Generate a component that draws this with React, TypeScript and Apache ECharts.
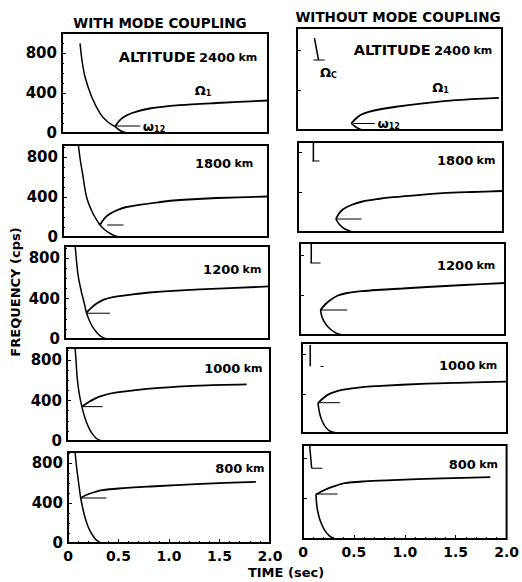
import React, { useEffect, useRef } from "react";
import * as echarts from "echarts";

// ---------- tick labels / texts ----------
const X_TICK_LABELS = ["0", "0.5", "1.0", "1.5", "2.0"];
const Y_TICK_VALUES = [0, 400, 800];
const ALTITUDES = ["2400", "1800", "1200", "1000", "800"];
const HEADERS = ["WITH MODE COUPLING", "WITHOUT MODE COUPLING"];
const Y_TITLE = "FREQUENCY (cps)";
const X_TITLE = "TIME (sec)";

// y-axis upper limits (cps) of each panel
const LEFT_YMAX = [1000, 920, 920, 920, 910];
const RIGHT_YMAX = [1020, 900, 920, 920, 930];

// ---------- WITH mode coupling: [time s, freq cps] ----------
const L1_DESC = [[0.175, 897], [0.195, 720], [0.223, 563], [0.288, 363], [0.369, 197], [0.44, 115], [0.515, 63]];
const L1_TAIL = [[0.515, 63], [0.55, 35], [0.59, 12], [0.63, 0]];
const L1_RISE = [[0.515, 63], [0.55, 115], [0.6, 160], [0.68, 200], [0.85, 245], [1.14, 278], [1.5, 300], [2.0, 325]];
const L1_W12 = [[0.515, 70], [0.76, 70]];

const L2_DESC = [[0.15, 920], [0.17, 760], [0.19, 640], [0.23, 400], [0.29, 240], [0.36, 120]];
const L2_TAIL = [[0.36, 120], [0.41, 70], [0.46, 35], [0.51, 10], [0.56, 0]];
const L2_RISE = [[0.36, 120], [0.4, 180], [0.44, 220], [0.52, 265], [0.62, 300], [0.95, 350], [1.14, 370], [1.5, 390], [2.0, 405]];
const L2_W12 = [[0.43, 120], [0.59, 120]];

const L3_DESC = [[0.1, 920], [0.115, 750], [0.13, 620], [0.16, 470], [0.18, 390], [0.21, 260]];
const L3_TAIL = [[0.21, 260], [0.24, 180], [0.27, 120], [0.32, 55], [0.36, 20], [0.41, 0]];
const L3_RISE = [[0.21, 260], [0.26, 310], [0.31, 350], [0.38, 390], [0.47, 415], [0.65, 440], [0.83, 460], [1.32, 490], [2.0, 520]];
const L3_W12 = [[0.21, 255], [0.44, 255]];

const L4_DESC = [[0.08, 920], [0.09, 780], [0.1, 630], [0.12, 470], [0.146, 340]];
const L4_TAIL = [[0.146, 340], [0.17, 250], [0.19, 190], [0.22, 120], [0.25, 70], [0.29, 25], [0.34, 0]];
const L4_RISE = [[0.146, 340], [0.23, 395], [0.32, 440], [0.49, 480], [0.91, 525], [1.3, 548], [1.77, 560]];
const L4_W12 = [[0.146, 340], [0.35, 340]];

const L5_DESC = [[0.07, 910], [0.085, 760], [0.1, 640], [0.125, 450]];
const L5_TAIL = [[0.125, 450], [0.15, 330], [0.17, 250], [0.2, 160], [0.23, 100], [0.27, 40], [0.31, 8], [0.33, 0]];
const L5_RISE = [[0.125, 450], [0.18, 480], [0.25, 505], [0.34, 528], [0.5, 545], [0.82, 565], [1.32, 592], [1.86, 612]];
const L5_W12 = [[0.125, 450], [0.38, 450]];

// ---------- WITHOUT mode coupling ----------
const R1_LOWER = [[0.53, 65], [0.56, 40], [0.6, 15], [0.64, 0]];
const R1_UPPER = [[0.53, 65], [0.57, 110], [0.62, 150], [0.7, 182], [0.8, 205], [0.95, 230], [1.19, 262], [1.46, 292], [1.7, 308], [1.97, 322]];
const R1_W12 = [[0.55, 65], [0.76, 65]];
const R1_OMC_V = [[0.17, 920], [0.21, 700]];
const R1_OMC_H = [[0.16, 700], [0.27, 700]];

const R2_LOWER = [[0.37, 130], [0.4, 80], [0.45, 35], [0.53, 0]];
const R2_UPPER = [[0.37, 130], [0.4, 185], [0.44, 228], [0.52, 270], [0.63, 305], [0.78, 330], [0.93, 348], [1.2, 372], [1.41, 388], [1.7, 400], [1.99, 410]];
const R2_W12 = [[0.37, 130], [0.62, 130]];
const R2_OMC_V = [[0.15, 900], [0.15, 710]];
const R2_OMC_H = [[0.14, 710], [0.21, 710]];

const R3_LOWER = [[0.2, 250], [0.215, 180], [0.25, 110], [0.3, 55], [0.36, 15], [0.42, 0]];
const R3_UPPER = [[0.2, 250], [0.24, 300], [0.29, 345], [0.37, 395], [0.46, 420], [0.6, 438], [0.75, 450], [1.0, 465], [1.24, 480], [1.6, 500], [2.0, 520]];
const R3_W12 = [[0.2, 250], [0.46, 250]];
const R3_OMC_V = [[0.11, 920], [0.11, 720]];
const R3_OMC_H = [[0.1, 720], [0.2, 720]];

const R4_LOWER = [[0.156, 306], [0.165, 240], [0.18, 170], [0.2, 115], [0.23, 60], [0.27, 20], [0.34, 0]];
const R4_UPPER = [[0.156, 306], [0.2, 350], [0.25, 390], [0.32, 420], [0.39, 440], [0.59, 470], [0.73, 480], [1.22, 505], [1.6, 515], [2.0, 525]];
const R4_W12 = [[0.156, 310], [0.37, 310]];
const R4_OMC_V = [[0.08, 900], [0.08, 683]];
const R4_OMC_H = [[0.18, 680], [0.21, 680]];

const R5_LOWER = [[0.127, 440], [0.132, 370], [0.137, 317], [0.15, 250], [0.166, 190], [0.21, 90], [0.26, 30], [0.31, 0]];
const R5_UPPER = [[0.127, 440], [0.2, 480], [0.3, 520], [0.41, 553], [0.6, 570], [0.88, 582], [1.37, 600], [1.84, 612]];
const R5_W12 = [[0.127, 445], [0.34, 445]];
const R5_OMC_V = [[0.065, 930], [0.085, 700]];
const R5_OMC_H = [[0.085, 700], [0.19, 700]];

// ---------- layout (page pixels) ----------
const LEFT_GRIDS = [
  { left: 62, top: 33, width: 206, height: 100 },
  { left: 63, top: 145, width: 205, height: 92 },
  { left: 65, top: 246, width: 204, height: 93 },
  { left: 67, top: 348, width: 203, height: 93 },
  { left: 68, top: 452, width: 202, height: 91 },
];
const RIGHT_GRIDS = [
  { left: 297, top: 28, width: 205, height: 102 },
  { left: 298, top: 142, width: 205, height: 90 },
  { left: 300, top: 243, width: 205, height: 92 },
  { left: 302, top: 343, width: 205, height: 90 },
  { left: 303, top: 445, width: 205, height: 94 },
];
const LEFT_ALT_POS = [[1.92, 760], [1.88, 740], [1.95, 690], [1.95, 720], [1.97, 750]];
const RIGHT_ALT_POS = [[1.93, 800], [1.95, 720], [1.93, 700], [1.93, 690], [1.94, 740]];

const FONT = "DejaVu Sans";

export default function App() {
  const ref = useRef<HTMLDivElement>(null);
  useEffect(() => {
    document.body.style.margin = "0";
    if (!ref.current) return;
    const chart = echarts.init(ref.current, undefined, { renderer: "svg" });

    const grids: any[] = [];
    const xAxes: any[] = [];
    const yAxes: any[] = [];
    const series: any[] = [];

    const rich = {
      a: { fontFamily: FONT, fontWeight: "bold", fontSize: 14.5, color: "#000" },
      b: { fontFamily: FONT, fontWeight: "bold", fontSize: 13, color: "#000" },
      k: { fontFamily: FONT, fontWeight: "bold", fontSize: 11, color: "#000" },
      o: { fontFamily: FONT, fontWeight: "bold", fontSize: 13, color: "#000" },
      s: { fontFamily: FONT, fontWeight: "bold", fontSize: 8, color: "#000", padding: [6, 0, 0, 0] },
    };

    const addPanel = (g: any, ymax: number, isLeft: boolean, isBottom: boolean) => {
      const idx = grids.length;
      grids.push({ ...g, show: true, borderColor: "#000", borderWidth: 2, containLabel: false });
      xAxes.push({
        type: "value",
        gridIndex: idx,
        min: 0,
        max: 2,
        interval: 0.5,
        axisLine: { show: false },
        splitLine: { show: false },
        axisTick: { show: isBottom, inside: true, length: 4, lineStyle: { color: "#000" } },
        minorTick: { show: isBottom, splitNumber: 5, length: 2, lineStyle: { color: "#000" } },
        axisLabel: {
          show: isBottom,
          color: "#000",
          fontFamily: FONT,
          fontWeight: "bold",
          fontSize: 14,
          margin: 6,
          formatter: (v: number) => X_TICK_LABELS[Math.round(v / 0.5)] ?? "",
        },
      });
      yAxes.push({
        type: "value",
        gridIndex: idx,
        min: 0,
        max: ymax,
        interval: 400,
        axisLine: { show: false },
        splitLine: { show: false },
        axisTick: { show: true, inside: true, length: 4, lineStyle: { color: "#000" } },
        minorTick: { show: isLeft, splitNumber: 4, length: 2, lineStyle: { color: "#000" } },
        axisLabel: {
          show: isLeft,
          color: "#000",
          fontFamily: FONT,
          fontWeight: "bold",
          fontSize: 15,
          margin: 5,
          formatter: (v: number) => (Y_TICK_VALUES.includes(v) ? String(v) : ""),
        },
      });
      return idx;
    };

    const line = (idx: number, data: number[][], width = 1.5, smooth: any = 0.3) =>
      series.push({
        type: "line",
        xAxisIndex: idx,
        yAxisIndex: idx,
        data,
        smooth,
        symbol: "none",
        silent: true,
        clip: true,
        lineStyle: { color: "#000", width },
      });

    const text = (idx: number, point: number[], formatter: string, position: any) =>
      series.push({
        type: "scatter",
        xAxisIndex: idx,
        yAxisIndex: idx,
        data: [point],
        symbolSize: 1,
        silent: true,
        itemStyle: { color: "#fff" },
        label: {
          show: true,
          position,
          formatter,
          rich,
          color: "#000",
          opacity: 1,
          textBorderWidth: 0,
          distance: 2,
        },
      });

    const leftData = [
      [L1_DESC, L1_TAIL, L1_RISE, L1_W12],
      [L2_DESC, L2_TAIL, L2_RISE, L2_W12],
      [L3_DESC, L3_TAIL, L3_RISE, L3_W12],
      [L4_DESC, L4_TAIL, L4_RISE, L4_W12],
      [L5_DESC, L5_TAIL, L5_RISE, L5_W12],
    ];
    const rightData = [
      [R1_LOWER, R1_UPPER, R1_W12, R1_OMC_V, R1_OMC_H],
      [R2_LOWER, R2_UPPER, R2_W12, R2_OMC_V, R2_OMC_H],
      [R3_LOWER, R3_UPPER, R3_W12, R3_OMC_V, R3_OMC_H],
      [R4_LOWER, R4_UPPER, R4_W12, R4_OMC_V, R4_OMC_H],
      [R5_LOWER, R5_UPPER, R5_W12, R5_OMC_V, R5_OMC_H],
    ];

    const altText = (r: number) =>
      r === 0 ? `{a|ALTITUDE} {b|${ALTITUDES[r]}} {k|km}` : `{b|${ALTITUDES[r]}} {k|km}`;

    for (let r = 0; r < 5; r++) {
      const [desc, tail, rise, w12] = leftData[r];
      const i = addPanel(LEFT_GRIDS[r], LEFT_YMAX[r], true, r === 4);
      line(i, desc, 1.5);
      line(i, tail, 1.5);
      line(i, rise, 1.8);
      line(i, w12, 1, false);
      text(i, LEFT_ALT_POS[r], altText(r), "left");
      if (r === 0) {
        text(i, w12[1], "{o|ω}{s|12}", "right");
        text(i, [1.37, 330], "{o|Ω}{s|1}", "top");
      }
    }
    for (let r = 0; r < 5; r++) {
      const [lower, upper, w12, ov, oh] = rightData[r];
      const i = addPanel(RIGHT_GRIDS[r], RIGHT_YMAX[r], false, r === 4);
      line(i, lower, 1.6);
      line(i, upper, 1.8);
      line(i, w12, 1, false);
      line(i, ov, 1.5, false);
      line(i, oh, 1.2, false);
      text(i, RIGHT_ALT_POS[r], altText(r), "left");
      if (r === 0) {
        text(i, w12[1], "{o|ω}{s|12}", "right");
        text(i, [1.4, 330], "{o|Ω}{s|1}", "top");
        text(i, [0.2, 580], "{o|Ω}{s|C}", "right");
      }
    }

    const titleFont = `bold 13.5px "${FONT}"`;
    chart.setOption({
      animation: false,
      backgroundColor: "#fff",
      grid: grids,
      xAxis: xAxes,
      yAxis: yAxes,
      series,
      graphic: [
        {
          type: "text",
          x: 160,
          y: 23,
          style: { text: HEADERS[0], font: titleFont, fill: "#000", align: "center", verticalAlign: "middle" },
        },
        {
          type: "text",
          x: 398,
          y: 17,
          style: { text: HEADERS[1], font: titleFont, fill: "#000", align: "center", verticalAlign: "middle" },
        },
        {
          type: "text",
          x: 15,
          y: 292,
          rotation: Math.PI / 2,
          style: { text: Y_TITLE, font: `bold 13px "${FONT}"`, fill: "#000", align: "center", verticalAlign: "middle" },
        },
        {
          type: "text",
          x: 286,
          y: 572,
          style: { text: X_TITLE, font: `bold 13px "${FONT}"`, fill: "#000", align: "center", verticalAlign: "middle" },
        },
      ],
    });
    return () => chart.dispose();
  }, []);
  return <div ref={ref} style={{ width: 522, height: 582 }} />;
}
